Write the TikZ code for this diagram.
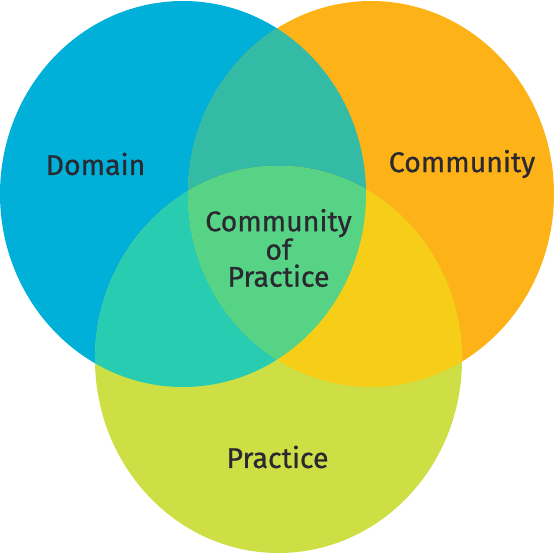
\documentclass[tikz,border=0pt]{standalone}
\usepackage{fontspec}
\setmainfont{Fira Sans}
\newfontfamily\lblfont{Fira Sans}[FakeBold=0.7]
\definecolor{cBlue}{HTML}{00B0D8}
\definecolor{cOrange}{HTML}{FDB217}
\definecolor{cGreen}{HTML}{CEDF45}
\definecolor{cBO}{HTML}{33BBA6}
\definecolor{cBG}{HTML}{28CCB0}
\definecolor{cOG}{HTML}{F7CE17}
\definecolor{cAll}{HTML}{57D385}
\definecolor{cText}{HTML}{2A2830}
\newcommand{\ellDom}{(183,194) ellipse [x radius=183, y radius=193]}
\newcommand{\ellCom}{(371,194) ellipse [x radius=183, y radius=193]}
\newcommand{\ellPra}{(278.5,359.5) ellipse [x radius=183.5, y radius=193.5]}
\begin{document}
\begin{tikzpicture}[x=1pt,y=-1pt,
  lbl/.style={text=cText, font=\lblfont\fontsize{28.5}{27}\selectfont, align=center, inner sep=0pt}]
\useasboundingbox (0,0) rectangle (555,555);
% base circles
\fill[cBlue] \ellDom;
\fill[cOrange] \ellCom;
\fill[cGreen] \ellPra;
% pairwise overlaps
\begin{scope}
  \clip \ellDom;
  \fill[cBO] \ellCom;
  \fill[cBG] \ellPra;
\end{scope}
\begin{scope}
  \clip \ellCom;
  \fill[cOG] \ellPra;
\end{scope}
% triple overlap
\begin{scope}
  \clip \ellDom;
  \clip \ellCom;
  \fill[cAll] \ellPra;
\end{scope}
% labels
\node[lbl] (dom) at (95.5,164) {Domain};
\node[lbl] (com) at (462,164) {Community};
\node[lbl] (pra) at (277.5,457) {Practice};
\node[lbl] (cop) at (278.5,248) {Community\\of\\Practice};
\end{tikzpicture}
\end{document}
